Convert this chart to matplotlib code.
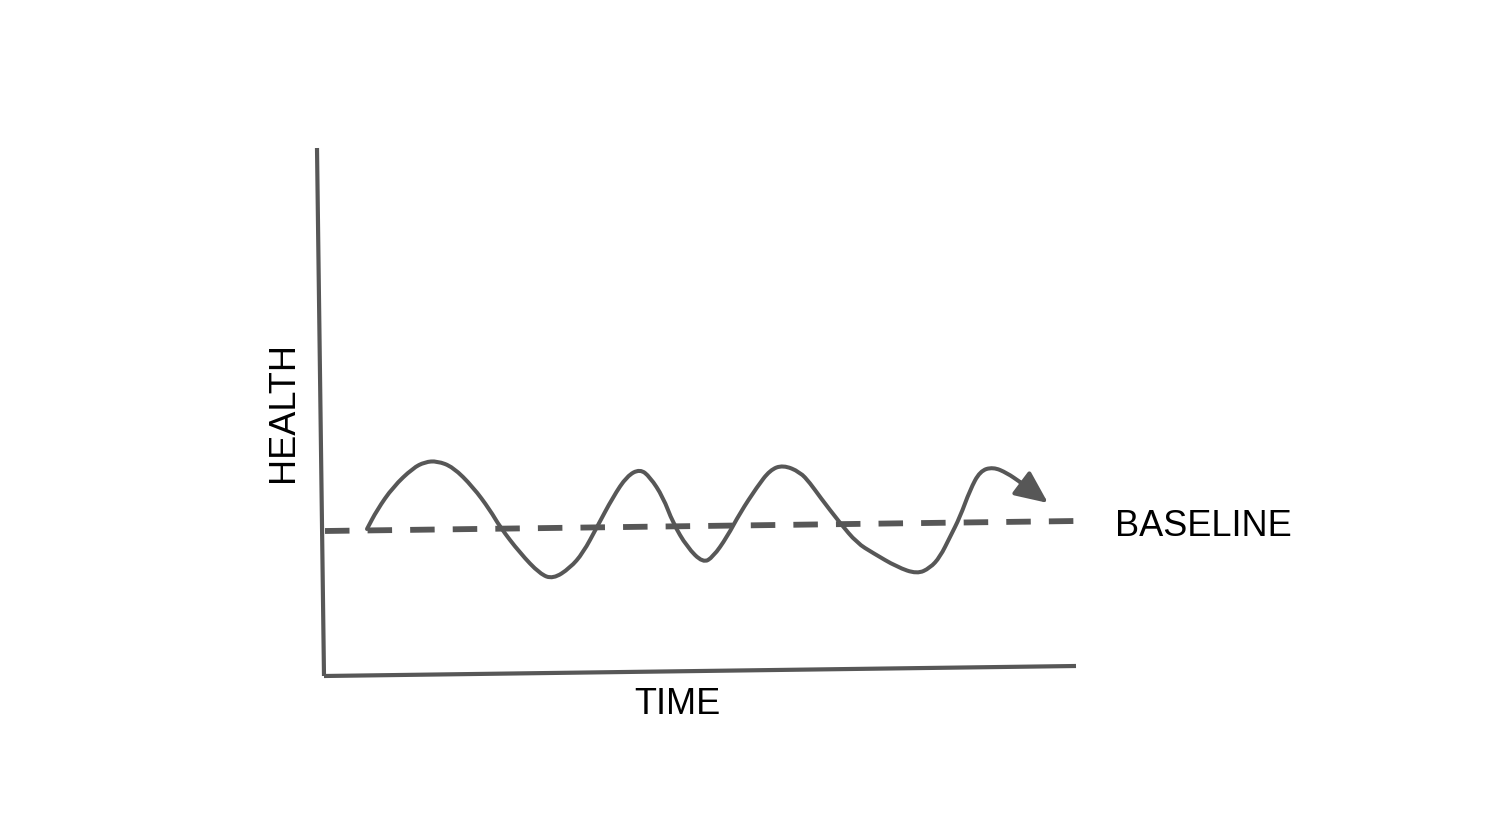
import matplotlib
matplotlib.use('Agg')
import matplotlib.pyplot as plt
from matplotlib.path import Path
from matplotlib.patches import PathPatch

# 图是示意图，坐标直接用像素坐标 (x 向右, y 向下)
# 坐标轴两条线
y_axis_x = [317, 324]
y_axis_y = [148, 676]
x_axis_x = [324, 1076]
x_axis_y = [676, 666]

# 虚线基准线
base_x = [325, 1076]
base_y = [531, 521]

# 健康波动曲线 (从图上读的点)
wave_x = [367, 377, 393, 413, 425, 437, 453, 473, 490, 500, 520, 540, 553, 570,
          583, 597, 613, 627, 640, 650, 663, 673, 687, 703, 713, 727, 740, 757,
          770, 783, 800, 810, 820, 840, 857, 873, 897, 917, 930, 940, 950, 960,
          970, 980, 993, 1007, 1020]
wave_y = [529, 510, 487, 468, 462, 461, 467, 487, 510, 527, 553, 574, 579, 568,
          553, 527, 497, 476, 469, 477, 497, 523, 547, 563, 557, 537, 513, 487,
          470, 465, 472, 483, 497, 523, 543, 553, 567, 574, 568, 557, 537, 517,
          490, 471, 467, 473, 482]
arrow_tip = (1048, 503)

labels = ['HEALTH', 'TIME', 'BASELINE']

col = '#575757'


def smooth_path(xs, ys):
    # 读出的点当作二次贝塞尔控制点，中点作锚点，画成光滑曲线
    pts = list(zip(xs, ys))
    verts = [pts[0]]
    codes = [Path.MOVETO]
    mid = lambda a, b: ((a[0] + b[0]) / 2, (a[1] + b[1]) / 2)
    verts.append(mid(pts[0], pts[1]))
    codes.append(Path.LINETO)
    for i in range(1, len(pts) - 1):
        verts += [pts[i], mid(pts[i], pts[i + 1])]
        codes += [Path.CURVE3, Path.CURVE3]
    verts.append(pts[-1])
    codes.append(Path.LINETO)
    return Path(verts, codes)


fig = plt.figure(figsize=(15, 8.36), dpi=100)
ax = fig.add_axes([0, 0, 1, 1])
ax.set_xlim(0, 1500)
ax.set_ylim(836, 0)
ax.axis('off')

ax.plot(y_axis_x, y_axis_y, color=col, lw=3.0, solid_capstyle='butt')
ax.plot(x_axis_x, x_axis_y, color=col, lw=3.0, solid_capstyle='butt')

ax.plot(base_x, base_y, color=col, lw=4.2, dashes=(4.2, 3.1), solid_capstyle='butt')

ax.add_patch(PathPatch(smooth_path(wave_x, wave_y), facecolor='none',
                       edgecolor=col, lw=2.9, joinstyle='round', capstyle='round'))
ax.annotate('', xy=arrow_tip, xytext=(wave_x[-1], wave_y[-1]),
            arrowprops=dict(arrowstyle='-|>,head_length=1.0,head_width=0.45',
                            mutation_scale=20, color=col, lw=2.9,
                            shrinkA=0, shrinkB=0))

font = 'Liberation Sans'
ax.text(284, 412, labels[0], rotation=90, ha='center', va='center',
        fontsize=26, family=font, color='black')
ax.text(677, 704, labels[1], ha='center', va='center',
        fontsize=26, family=font, color='black')
ax.text(1115, 527, labels[2], ha='left', va='center',
        fontsize=26, family=font, color='black')

fig.savefig('out.png', dpi=100, facecolor='white')
